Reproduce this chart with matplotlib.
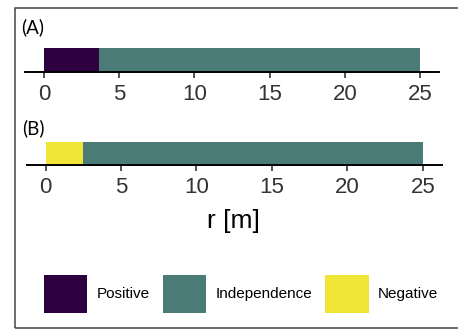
import matplotlib
matplotlib.use("Agg")
import matplotlib.pyplot as plt
from matplotlib.patches import Patch, Rectangle

# Association classes and their fill colours
categories = ["Positive", "Independence", "Negative"]
colors = {"Positive": "#2d0040", "Independence": "#4a7b76", "Negative": "#f0e536"}

# Distance intervals (m) for each panel: class, start, end
panel_a_class = ["Positive", "Independence"]
panel_a_start = [0.0, 3.65]
panel_a_end = [3.65, 25.0]

panel_b_class = ["Negative", "Independence"]
panel_b_start = [0.0, 2.45]
panel_b_end = [2.45, 25.0]

xticks = [0, 5, 10, 15, 20, 25]
r_max = 25.0

W, H = 458, 329
fig = plt.figure(figsize=(W / 100, H / 100), dpi=100)

# outer frame
fig.add_artist(Rectangle((15 / W, 1 / H), 1.2, 1 - 9 / H, transform=fig.transFigure,
                         fill=False, edgecolor="#444444", linewidth=1.1))


def panel(rect, cls, start, end, tag, tag_xy):
    ax = fig.add_axes(rect)
    widths = [e - s for s, e in zip(start, end)]
    ax.barh([0.5] * len(cls), widths, left=start, height=1.0,
            color=[colors[c] for c in cls], edgecolor="none")
    pad = 0.05 * r_max
    ax.set_xlim(-pad, r_max + pad)
    ax.set_ylim(0, 1)
    for s in ("top", "left", "right"):
        ax.spines[s].set_visible(False)
    ax.spines["bottom"].set_linewidth(1.4)
    ax.spines["bottom"].set_color("black")
    ax.set_yticks([])
    ax.set_xticks(xticks)
    ax.set_xticklabels([str(t) for t in xticks], fontsize=16, color="#333333",
                       fontfamily="Liberation Sans")
    ax.tick_params(axis="x", length=4.2, width=1.2, color="#333333", pad=4.5)
    ax.patch.set_alpha(0)
    fig.text(tag_xy[0] / W, 1 - tag_xy[1] / H, tag, fontsize=13.5,
             fontfamily="Lato", va="center", ha="left")
    return ax


panel([25 / W, 1 - 72 / H, 414 / W, 24 / H], panel_a_class, panel_a_start, panel_a_end,
      "(A)", (21, 27))
axb = panel([26.7 / W, 1 - 165 / H, 415 / W, 23.3 / H], panel_b_class, panel_b_start,
            panel_b_end, "(B)", (22, 128))

fig.text(233 / W, 1 - 221 / H, "r [m]", fontsize=19, fontfamily="Liberation Sans",
         ha="center", va="center")

handles = [Patch(facecolor=colors[c], edgecolor="none", label=c) for c in categories]
fig.legend(handles=handles, loc="center", bbox_to_anchor=(241 / W, 1 - 294 / H),
           ncol=3, frameon=False, prop={"family": "Liberation Sans", "size": 11},
           handlelength=2.85, handleheight=3.5, handletextpad=0.6, columnspacing=0.85,
           borderpad=0, borderaxespad=0)

fig.savefig("out.png", dpi=100)
